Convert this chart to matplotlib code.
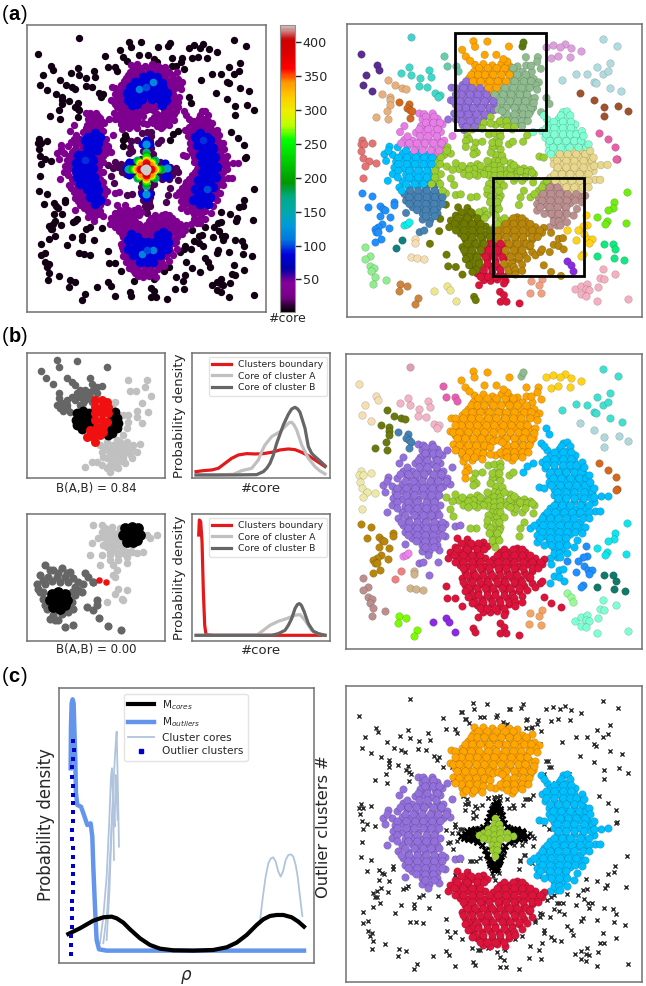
import numpy as np
import matplotlib
matplotlib.use('Agg')
import matplotlib.pyplot as plt
from matplotlib.cm import ScalarMappable
from matplotlib.colors import Normalize
from matplotlib.lines import Line2D
from matplotlib.patches import Rectangle

W, H = 646, 986

ORANGE_CORE = [(403,165),(428,163),(455,167),(482,163),(506,168),(531,170),(400,186),(421,184),(446,187),(470,183),(496,187),(519,184),(546,187),(574,186),
               (385,206),(406,204),(431,207),(455,203),(480,207),(510,204),(535,207),(560,204),(580,208),(595,218),(365,226),(388,224),(412,228),(440,224),
               (465,228),(490,224),(515,228),(540,224),(565,228),(585,226),(332,234),(355,246),(380,244),(405,248),(430,244),(455,248),(480,244),(505,248),
               (530,244),(555,248),(350,266),(372,264),(395,268),(420,264),(445,268),(470,264),(495,268),(520,264),(545,268),(565,264),(330,272),(345,286),
               (365,284),(385,288),(410,284),(435,288),(460,284),(485,288),(510,284),(535,288),(560,284),(578,294),(340,312),(370,305),(395,308),(420,305),
               (445,308),(525,305),(545,308),(570,306),(350,326),(375,324),(400,328),(430,324),(490,326),(510,324),(535,328),(555,324),(365,346),(385,344),
               (410,348),(465,346),(485,344),(510,348),(530,344),(370,362),(395,360),(515,360),
               (415,175),(442,175),(468,175),(493,175),(518,175),(392,195),(412,195),(433,195),(458,195),(483,195),(507,195),(530,195),(556,195),
               (376,215),(397,215),(420,215),(447,215),(472,215),(497,215),(522,215),(550,215),(572,215),(344,235),(368,235),(393,235),(418,235),(443,235),
               (468,235),(493,235),(518,235),(543,235),(568,235),(362,255),(388,255),(412,255),(438,255),(462,255),(488,255),(512,255),(538,255),(560,255),
               (338,275),(358,275),(383,275),(408,275),(432,275),(458,275),(482,275),(508,275),(532,275),(555,275),(352,295),(376,295),(398,295),(422,295),
               (448,295),(498,295),(522,295),(548,295),(572,295),(358,315),(383,315),(408,315),(432,315),(500,315),(522,315),(548,315),(565,315),(362,335),
               (388,335),(412,335),(478,335),(498,335),(522,335),(545,335),(378,352),(402,352),(500,352),(522,352),
               (460,302),(472,300),(485,305),(450,322),(345,330),(430,340),(450,342),(562,335),(425,358),(545,350),(590,240),(583,265),(580,280),(345,255)]
ORANGE_FRINGE = [(398,94),(403,111),(440,95),(505,110),(364,120),(375,140),(388,153),(432,135),(467,135),(556,142),(592,142),(590,156),(601,177),
                 (557,167),(572,168),(500,155),(488,148),(380,380),(385,390),(375,395),(375,413)]
PURPLE_CORE = [(235,312),(250,314),(275,312),(322,330),(245,330),(270,332),(290,328),(305,345),(190,350),(240,350),(260,348),(285,352),(177,368),
               (225,370),(250,368),(275,372),(300,368),(335,380),(190,392),(215,394),(240,390),(265,394),(290,390),(310,394),(145,412),(170,414),(200,410),
               (225,414),(250,410),(275,414),(300,410),(320,414),(130,435),(155,437),(185,433),(210,437),(235,433),(260,437),(285,433),(310,437),(330,433),
               (135,455),(165,457),(190,453),(215,457),(240,453),(265,457),(290,453),(160,475),(185,477),(210,473),(235,477),(260,473),(285,477),(155,495),
               (195,497),(220,493),(245,497),(270,493),(300,495),(140,515),(185,517),(215,513),(240,517),(265,513),(290,517),(175,535),(205,537),(230,533),
               (255,537),(280,533),(315,553),(190,555),(215,557),(240,553),(265,557),(290,553),(345,558),(360,556),(195,575),(220,577),(245,573),(270,577),
               (295,573),(315,587),(215,595),(240,597),(265,593),(290,597),(195,612),(245,614),(270,610),(290,614),(245,632),(268,634),(298,630),(265,645),
               (255,322),(280,322),(255,340),(278,340),(298,340),(235,360),(262,360),(290,360),(200,381),(237,381),(262,381),(288,381),(180,402),(205,402),
               (228,402),(252,402),(278,402),(302,402),(142,424),(195,424),(220,424),(245,424),(270,424),(295,424),(318,424),(172,445),(198,445),(225,445),
               (250,445),(275,445),(300,445),(172,465),(198,465),(222,465),(248,465),(272,465),(298,465),(172,485),(205,485),(232,485),(258,485),(282,485),
               (170,505),(205,505),(232,505),(258,505),(282,505),(195,525),(222,525),(248,525),(272,525),(298,525),(182,545),(208,545),(232,545),(258,545),
               (282,545),(305,545),(205,565),(232,565),(258,565),(282,565),(305,565),(205,585),(230,585),(255,585),(280,585),(305,585),(228,604),(255,604),
               (280,604),(255,622),(282,622)]
PURPLE_FRINGE = [(236,670),(250,665),(295,667),(267,705)]
BLUE_CORE = [(602,308),(668,308),(680,306),(620,330),(655,328),(680,332),(630,347),(655,345),(680,349),(705,345),(605,365),(630,367),(655,363),
             (680,367),(700,363),(615,385),(640,387),(665,383),(690,387),(715,383),(625,405),(650,407),(675,403),(700,407),(730,403),(625,425),(650,427),
             (675,423),(700,427),(725,423),(742,427),(597,442),(610,445),(640,447),(665,443),(690,447),(715,443),(745,447),(640,465),(665,467),(690,463),
             (715,467),(745,463),(782,468),(802,467),(650,485),(675,487),(700,483),(725,487),(760,485),(630,505),(655,507),(680,503),(705,507),(730,503),
             (765,512),(780,512),(610,525),(635,527),(660,523),(685,527),(710,523),(735,527),(595,545),(620,547),(645,543),(670,547),(695,543),(720,547),
             (570,565),(595,567),(620,563),(645,567),(670,563),(695,567),(720,563),(590,585),(615,587),(640,583),(665,587),(690,583),(590,605),(625,607),
             (650,603),(675,607),(640,625),(665,627),(650,650),(628,655),
             (610,318),(662,318),(690,318),(640,337),(668,337),(692,337),(618,356),(642,356),(668,356),(692,356),(618,375),(642,375),(668,375),(690,375),
             (708,375),(628,395),(652,395),(678,395),(702,395),(722,395),(638,415),(662,415),(688,415),(715,415),(738,415),(632,435),(658,435),(682,435),
             (708,435),(735,435),(650,455),(678,455),(702,455),(730,455),(755,455),(652,475),(678,475),(702,475),(730,475),(752,475),(642,495),(665,495),
             (690,495),(718,495),(745,495),(620,515),(645,515),(670,515),(695,515),(720,515),(745,515),(605,535),(628,535),(652,535),(678,535),(702,535),
             (728,535),(582,555),(608,555),(632,555),(658,555),(682,555),(708,555),(605,575),(630,575),(655,575),(680,575),(705,575),(600,595),(628,595),
             (652,595),(678,595),(632,615),(655,615),(680,615),(640,638),(655,638),
             (725,365),(730,380),(745,405),(750,425),(760,445),(762,470),(745,535),(735,560),(725,580),(710,600),(700,620),(680,640),(612,615),(660,650)]
BLUE_FRINGE = [(618,265),(627,283),(578,368),(560,378),(548,397),(632,672),(655,690),(668,688),(640,708),(655,712),(670,722),(628,730)]
RED_CORE = [(352,595),(380,597),(385,610),(430,605),(345,620),(375,622),(400,618),(425,622),(440,618),(530,625),(330,635),(360,637),(385,633),
            (410,637),(480,635),(505,637),(530,633),(555,637),(325,655),(355,657),(380,653),(405,657),(435,653),(460,657),(485,653),(510,657),(535,653),
            (560,657),(585,655),(610,657),(360,675),(385,677),(410,673),(435,677),(460,673),(485,677),(510,673),(535,677),(560,673),(590,675),(605,672),
            (375,695),(400,697),(425,693),(450,697),(475,693),(500,697),(525,693),(550,697),(575,693),(365,715),(390,717),(415,713),(440,717),(465,713),
            (490,717),(515,713),(540,717),(565,713),(375,735),(400,737),(425,733),(450,737),(475,733),(500,737),(525,733),(550,737),(390,755),(415,757),
            (440,753),(465,757),(490,753),(515,757),(535,753),(400,775),(425,777),(450,773),(475,777),(500,773),(410,795),(430,797),(455,793),(480,797),
            (505,793),(430,815),(450,817),(470,813),(495,817),
            (362,610),(392,610),(415,610),(352,628),(380,628),(410,628),(432,628),(492,628),(518,628),(545,628),(342,645),(370,645),(395,645),(420,645),
            (470,645),(495,645),(520,645),(545,645),(570,645),(345,665),(370,665),(395,665),(420,665),(448,665),(472,665),(498,665),(522,665),(548,665),
            (575,665),(598,665),(370,685),(395,685),(420,685),(448,685),(472,685),(498,685),(522,685),(548,685),(575,685),(592,685),(380,705),(405,705),
            (430,705),(455,705),(480,705),(505,705),(530,705),(558,705),(370,725),(395,725),(420,725),(445,725),(470,725),(495,725),(520,725),(545,725),
            (385,745),(410,745),(435,745),(460,745),(485,745),(510,745),(535,745),(395,765),(415,765),(440,765),(465,765),(490,765),(515,765),(405,785),
            (430,785),(455,785),(480,785),(505,785),(420,805),(442,805),(465,805),(490,805),
            (575,730),(560,750),(375,752),(385,770),(520,775),(545,768),(395,790),(525,785),(570,710)]
RED_FRINGE = [(317,738),(585,740),(600,730),(605,722),(610,770),(322,773),(345,775),(365,798),(525,798),(545,787),(632,790),(662,802),(415,830),
              (478,850),(490,860),(400,865),(405,875),(480,880),(498,880),(537,885),(490,825)]
GREEN_CORE = [(465,437),(462,455),(475,455),(445,470),(462,470),(480,470),(430,482),(445,482),(462,485),(480,482),(500,482),(417,487),(518,488),
              (445,498),(462,500),(480,498),(430,495),(500,495),(455,515),(470,515),(460,530),(470,530),(463,548)]
GREEN_FRINGE = [(445,375),(462,372),(478,370),(480,382),(405,400),(425,397),(400,418),(408,430),(398,435),(505,405),(517,397),(465,395),(470,410),
                (455,415),(480,420),(410,465),(390,470),(375,480),(355,480),(345,462),(318,472),(335,482),(370,495),(390,490),(410,500),(510,462),(530,478),
                (550,478),(570,482),(580,495),(578,520),(530,495),(550,490),(520,515),(545,515),(330,508),(340,528),(440,555),(480,560),(408,563),(390,565),
                (460,570),(475,570),(460,590),(470,590),(460,610),(465,620),(550,545),(540,565),(535,588),
                (455,400),(475,400),(450,430),(485,440),(440,455),(490,455),(420,470),(400,480),(385,482),(365,470),(400,495),(385,500),(510,478),(520,468),
                (540,485),(560,488),(575,490),(525,505),(555,505),(510,500),(445,525),(480,515),(440,540),(490,530),(450,565),(470,580),(455,600),(475,600),
                (475,545),(448,580)]
# black crosses hugging the green cores in panel (c)
STAR_HALO = [(468,388),(462,398),(474,400),(456,408),(468,410),(480,410),(450,420),(462,420),(476,422),(486,426),(448,432),(484,438),(440,445),(490,450),
             (430,462),(500,462),(418,470),(508,468),(400,474),(520,472),(388,480),(535,478),(375,484),(548,482),(362,488),(560,488),(372,494),(550,494),
             (385,498),(535,498),(398,500),(520,502),(412,508),(505,508),(425,515),(495,518),(436,530),(488,532),(442,545),(482,548),(448,560),(478,560),
             (452,572),(474,572),(456,582),(470,582),(462,590),(464,575),(394,488),(540,488),(380,476),(392,472),(405,470),(530,470),(545,474),(525,495),
             (410,500),(395,494),(465,400),(470,395),(455,418),(478,416),(450,570),(476,566),(460,578),(466,588)]
# crosses of panel (c) that have no dot of their own in panel (b)
EXTRA_CROSSES = [(365,120),(378,140),(420,135),(470,130),(510,112),(560,140),(575,165),(600,215),(622,265),(632,285),(610,305),(645,330),(670,305),(685,305),
                 (340,320),(350,332),(320,330),(335,272),(335,285),(310,285),(370,370),(385,395),(410,405),(445,375),(470,372),(500,380),(520,405),(555,380),
                 (570,380),(595,445),(610,455),(625,470),(345,455),(360,470),(365,490),(350,505),(325,510),(345,555),(360,560),(395,565),(420,555),(440,550),
                 (490,545),(540,560),(555,545),(575,570),(595,610),(325,650),(345,605),(385,595),(330,655),(590,665),(605,660),(640,665),(650,690),(620,680),
                 (600,720),(585,745),(610,780),(640,800),(330,790),(395,825),(420,830),(445,825),(470,835),(495,830)]

WHEAT = [(58,132),(108,167),(113,180),(75,195),(65,226),(92,243)]
ROSE = [(210,82)]
HOT_PINK = [(308,138),(318,170),(345,170),(352,183)]
LIGHT_PINK = [(205,173),(180,190),(210,196),(265,182),(270,202),(236,206),(235,229),(257,232),(283,251),(298,255),(292,263)]
OLIVE = [(140,210),(163,227),(183,234),(194,238),(124,254),(146,262),(146,272),(146,285),(104,323),(137,305),(140,330)]
STEEL = [(174,277),(205,282),(197,294),(208,300),(212,305),(206,325)]
KHAKI = [(63,393),(58,405),(68,405),(92,400),(60,425),(65,445),(82,455),(105,460),(70,470),(65,508)]
GOLDENROD = [(63,552),(93,561),(80,594),(118,590),(125,600),(133,604),(160,580),(160,588),(118,622),(148,623),(122,645),(112,655),(100,660),
             (105,670),(143,658),(120,690),(100,700),(110,670)]
ROSY = [(70,715),(85,742),(70,750),(85,772),(97,778),(90,788),(100,804),(95,827),(135,813)]
CORAL = [(184,694),(165,718)]
TAN = [(223,692),(223,703),(210,745),(228,747),(250,750)]
ORCHID = [(188,649),(197,645),(204,640)]
LAWN = [(177,827),(197,833),(175,848),(232,870),(222,887)]
VIOLET = [(279,847),(318,833),(328,845),(346,877)]
SANDY = [(570,818),(604,810),(596,829),(567,853),(601,855)]
PALE_GREEN = [(680,758),(692,770),(698,786)]
AQUA = [(705,842),(722,832),(740,825),(737,840),(745,843),(722,857),(737,862),(772,835),(780,808),(790,810),(788,780),(826,795),(770,878),(863,872)]
TEAL = [(792,705),(818,706),(826,722),(770,741),(822,747),(853,754)]
DODGER = [(737,618),(740,647),(727,650),(713,664),(680,662),(708,695),(730,677),(742,690),(755,690),(747,703),(727,735),(722,742)]
CYAN = [(860,548),(823,580),(820,598),(804,603),(771,625),(800,635),(795,645),(858,641)]
CHOCOLATE = [(777,370),(803,390),(826,412),(830,448),(828,450)]
POWDER = [(720,250),(760,270),(792,292),(835,288),(863,303),(790,320)]
TURQUOISE = [(788,88),(832,107),(666,210),(706,193),(740,194),(770,172),(808,159),(788,194),(804,185),(760,216),(768,220),(810,235),(844,245)]
GOLD = [(618,112),(638,105),(673,101),(660,112),(693,115),(722,124),(631,145),(654,139),(688,142)]
SAGE = [(543,108),(548,97)]

# points, colour in panel (b), colour in panel (a)
SMALL_CLUSTERS = [
    (WHEAT, '#f5deb3', '#5a2d91'), (ROSE, '#dda0b0', '#48d1cc'), (HOT_PINK, '#e85fb0', '#66cdaa'),
    (LIGHT_PINK, '#f2b4c6', '#40d8c8'), (OLIVE, '#6b7a10', '#e8b07a'), (STEEL, '#4682b4', '#d2691e'),
    (KHAKI, '#eee8aa', '#e57373'), (GOLDENROD, '#b8860b', '#1e90ff'), (ROSY, '#bc8f8f', '#90ee90'),
    (CORAL, '#f08080', '#0f7f7f'), (TAN, '#d2b48c', '#f5deb3'), (ORCHID, '#ee82ee', '#10f0f0'),
    (LAWN, '#7cfc00', '#cd853f'), (VIOLET, '#8a2be2', '#eee68c'), (SANDY, '#f4a460', '#f0a080'),
    (PALE_GREEN, '#98fb98', '#8a2be2'), (AQUA, '#7fffd4', '#f4b0c0'), (TEAL, '#0f7a6a', '#10e880'),
    (DODGER, '#1e90ff', '#ffd21a'), (CYAN, '#10e5ee', '#70ee10'), (CHOCOLATE, '#d2691e', '#e860a8'),
    (POWDER, '#b0d8dc', '#a0522d'), (TURQUOISE, '#40e0d0', '#b0dce0'), (GOLD, '#ffd21a', '#dda0dd'),
    (SAGE, '#8fbc8f', '#5a7a10'),
]

# panel (a) splits the big groups differently: nearest of these seeds
BIG_SEEDS_A = [
    (445, 180, '#ffa500'), (480, 115, '#ffa500'), (385, 280, '#9370db'), (535, 270, '#8fbc8f'), (570, 170, '#8fbc8f'),
    (245, 375, '#e87de8'), (215, 480, '#00bfff'), (250, 590, '#4682b4'),
    (660, 380, '#7fffd4'), (680, 480, '#e8d88c'), (650, 590, '#bc8f8f'),
    (395, 680, '#6f7a00'), (350, 640, '#6f7a00'), (400, 760, '#6f7a00'), (320, 740, '#6f7a00'), (400, 860, '#6f7a00'),
    (455, 750, '#dc143c'), (460, 795, '#dc143c'), (480, 850, '#dc143c'), (420, 825, '#dc143c'),
    (530, 680, '#b8860b'), (590, 720, '#b8860b'), (525, 760, '#b8860b'),
    (460, 485, '#9acd32'), (465, 395, '#9acd32'), (330, 490, '#9acd32'), (560, 490, '#9acd32'), (460, 590, '#9acd32'),
]

# #core values for panel (a) left, read in that panel's own crop
TOP_BLOB = [(430,230),(450,225),(470,232),(405,245),(425,245),(445,240),(465,245),(485,250),(390,260),(410,262),(430,262),(450,258),(470,262),(490,265),
            (380,280),(400,280),(420,280),(440,280),(460,280),(480,280),(500,280),(385,300),(405,300),(425,298),(455,298),(478,298),(497,300),(395,315),(412,312),(485,315)]
BOTTOM_BLOB = [(392,700),(490,695),(410,710),(475,705),(500,705),(385,720),(405,725),(425,725),(445,725),(465,725),(485,725),(505,725),(385,745),(405,745),
               (425,745),(445,745),(465,745),(485,745),(500,745),(400,765),(420,768),(440,770),(460,768),(480,765),(420,785),(440,785),(460,785)]
LEFT_BLOB = [(285,400),(265,410),(275,425),(260,440),(280,445),(250,465),(270,465),(240,485),(260,485),(240,505),(260,505),(245,525),(265,525),(250,545),
             (270,545),(260,565),(280,565),(270,590),(290,590),(285,610),
             (235,465),(228,490),(228,510),(232,530),(240,550),(300,410),(295,430),(290,450),(280,480),(278,505),(283,530),(288,550),(295,570),(300,600),(255,420)]
RIGHT_BLOB = [(600,400),(620,410),(605,425),(625,440),(610,445),(630,465),(615,465),(640,490),(620,490),(640,510),(620,510),(635,530),(615,530),(630,550),
              (610,550),(620,570),(600,570),(610,590),(590,590),(600,610),
              (585,410),(590,435),(600,465),(605,490),(605,515),(595,540),(585,565),(580,600),(630,420),(640,445),(645,470),(650,500),(648,530),(640,560),(630,590),(625,610)]
BRIGHT_SPOTS = [(417,268,112),(458,247,118),(437,262,100),(425,762,115),(460,748,115),(440,750,100),(620,565,100),(255,480,96),(610,420,96)]
STAR_LEVELS = [
    (85, [(437,420),(425,432),(450,432),(437,592),(425,582),(450,582),(378,505),(388,487),(388,525),(505,505),(505,528),(495,490),(495,530)]),
    (125, [(383,507),(500,505),(437,432),(437,580)]),
    (165, [(387,507),(487,507),(437,457),(437,557),(410,480),(464,480),(410,534),(464,534)]),
    (205, [(395,507),(479,507),(437,465),(437,549),(414,484),(460,484),(414,530),(460,530)]),
    (250, [(402,507),(472,507),(437,472),(437,542),(417,487),(457,487),(417,527),(457,527)]),
    (300, [(409,507),(465,507),(437,479),(437,535),(420,490),(454,490),(420,524),(454,524)]),
    (340, [(415,507),(459,507),(437,485),(437,529),(424,494),(450,494),(424,520),(450,520)]),
    (365, [(420,507),(454,507),(437,490),(437,524)]),
    (395, [(427,507),(447,507),(437,497),(437,517)]),
    (424, [(437,507),(433,507),(441,507),(437,503),(437,511)]),
]
CBAR_TICKS = [50, 100, 150, 200, 250, 300, 350, 400]

# panel (b) small scatters
B1_DARK = [(170,105),(230,107),(178,126),(124,137),(138,158),(158,178),(200,160),(320,126),(215,172),(270,160),(275,178),(225,180),(290,185),(305,182),(240,195),
           (255,195),(270,200),(280,195),(178,205),(178,220),(230,205),(250,210),(270,215),(185,235),(170,240),(200,240),(225,225),(255,225),(275,230),(190,258),(210,262),(240,240),
           (240,215),(260,205),(290,205),(200,225),(215,215),(250,235),(180,250),(200,250)]
B1_LIGHT = [(385,165),(440,165),(435,185),(390,198),(408,198),(452,212),(425,235),(412,258),(445,262),(410,275),(425,295),(345,230),(335,245),(370,270),(385,270),
            (385,290),(380,310),(370,330),(350,345),(300,360),(320,350),(340,360),(360,350),(380,350),(400,360),(420,358),(305,380),(325,375),(345,380),(365,375),(385,375),
            (410,382),(320,400),(340,395),(360,400),(395,400),(330,420),(350,415),(375,415),(330,440),(355,430),(255,425),(275,410),(290,410),(305,420),(320,430),
            (315,365),(335,370),(355,365),(375,362),(395,370),(330,385),(350,388),(370,388),(390,388),(335,408),(360,408),(345,425),(370,400),(310,395)]
B1_BLACK = [(230,265),(250,258),(268,265),(228,285),(248,282),(270,282),(232,300),(250,300),(268,298),(245,312),(345,262),(350,280),(335,275),(355,295),(340,295),
            (330,315),(350,310),(335,325),(325,330)]
B1_RED = [(285,225),(305,225),(320,230),(285,245),(305,245),(325,245),(285,265),(305,265),(325,265),(285,285),(305,285),(320,290),(290,305),(310,305),(270,315),(290,322),
          (310,320),(260,335),(280,335),(300,330),(285,352)]
B2_LIGHT = [(280,600),(305,600),(335,605),(360,610),(305,620),(325,625),(345,630),(295,640),(320,645),(345,650),(370,650),(275,655),(320,665),(345,670),(370,670),(395,660),
            (415,650),(450,640),(472,630),(440,630),(305,690),(330,690),(355,690),(380,695),(410,685),(430,680),(380,715),(270,690),(300,720),(340,720),(350,735),(345,755),
            (355,790),(380,795),(345,805),(320,830),(365,820),(370,825),(340,750),
            (315,610),(335,620),(355,625),(310,635),(335,640),(360,640),(385,680),(330,680),(350,680),(370,685),(395,680),(310,660),(335,660),(360,660),(330,705),(355,705)]
B2_DARK = [(135,720),(160,735),(185,730),(210,740),(120,750),(145,755),(170,755),(195,755),(220,760),(110,775),(135,775),(250,775),(225,785),(245,800),(120,800),(225,810),
           (130,820),(215,830),(140,850),(160,870),(185,865),(205,860),(150,880),(175,885),(195,905),(220,900),(265,755),(280,770),(255,745),(262,845),(290,825),(290,840),
           (280,855),(298,878),(325,902),(363,915),(278,770),
           (150,735),(175,745),(200,745),(130,765),(155,768),(180,770),(205,770),(235,770),(115,790),(235,795),(130,800),(215,800),(135,840),(220,850),(165,885)]
B2_BLACK = [(375,610),(395,605),(415,610),(370,630),(395,630),(420,630),(380,650),(400,650),(410,645),(155,805),(175,800),(195,805),(150,825),(175,825),(200,825),(160,845),
            (180,850),(195,840)]
B2_RED = [(298,765),(318,770)]

# panel (b) density curves
D1_RED = [(588,440),(610,437),(635,435),(655,430),(675,415),(695,400),(715,390),(740,386),(765,387),(790,386),(815,382),(840,375),(865,372),(885,374),(905,382),(925,392),(945,405),(960,415),(975,425)]
D1_LIGHT = [(588,450),(650,450),(700,448),(725,437),(755,430),(775,405),(785,380),(795,360),(815,335),(840,320),(860,300),(868,293),(875,292),(882,300),(890,315),(905,360),(925,400),(945,425),(960,438),(975,447)]
D1_DARK = [(588,450),(700,450),(770,449),(790,440),(800,430),(810,415),(820,390),(830,355),(850,300),(865,268),(875,252),(885,247),(893,252),(900,262),(915,310),(925,365),(935,385),(945,395),(960,408),(975,422)]
D2_RED = [(596,630),(598,585),(602,590),(606,650),(610,800),(614,900),(618,928),(640,930),(975,930)]
D2_LIGHT = [(588,930),(770,930),(790,915),(810,900),(835,888),(860,880),(885,870),(900,868),(915,885),(935,915),(955,925),(975,930)]
D2_DARK = [(588,930),(815,930),(835,925),(855,915),(865,900),(875,880),(885,850),(892,838),(898,835),(904,840),(912,858),(925,895),(940,918),(955,925),(975,930)]
DENSITY_LABELS = ['Clusters boundary', 'Core of cluster A', 'Core of cluster B']

# panel (c) curves
M_OUTLIERS = [(212,325),(213,200),(215,130),(218,118),(221,130),(223,200),(226,300),(228,400),(232,435),(243,440),(252,465),(262,495),(272,490),(277,530),(280,620),(285,740),(290,840),(297,868),(320,872),(912,872)]
M_CORES = [(205,822),(240,805),(280,782),(310,772),(335,770),(350,775),(370,788),(390,808),(420,835),(450,855),(480,866),(520,871),(580,872),(640,870),(680,862),(710,848),(740,825),(770,795),(790,778),(810,768),(830,765),(850,765),(875,772),(895,785),(912,800)]
CORE_CURVES = [
    [(300,850),(310,770),(320,650),(328,480),(333,350),(336,325),(340,450),(342,600)],
    [(310,850),(322,750),(332,560),(340,380),(346,270),(350,215),(352,300),(355,450),(357,560)],
    [(320,840),(328,700),(335,500),(340,430),(344,500),(347,345),(350,400),(353,480)],
    [(780,785),(785,740),(790,700),(797,650),(805,610),(812,596),(820,592),(827,605),(835,635),(842,650),(849,635),(857,600),(865,585),(873,583),(880,590),(887,615),(893,650),(900,710),(907,768)],
]
OUTLIER_X = [220,222,218,217,216,218,218,218,218,220,217,217,218,218,218,218,220,220,217,217,217,215,213,213,213]
OUTLIER_Y = [242,270,296,322,350,378,404,430,455,482,510,537,563,590,617,642,668,695,722,748,775,802,828,855,882]

TEXT = '#262626'
FRAME = '#707070'
plt.rcParams['font.family'] = 'DejaVu Sans'
plt.rcParams['text.color'] = TEXT

fig = plt.figure(figsize=(W / 100, H / 100), dpi=100)


def px_axes(x0, y0, x1, y1, xlim=(18, 905), ylim=(925, 42)):
    ax = fig.add_axes([x0 / W, 1 - y1 / H, (x1 - x0) / W, (y1 - y0) / H])
    ax.set_xlim(*xlim)
    ax.set_ylim(*ylim)
    ax.set_xticks([])
    ax.set_yticks([])
    for s in ax.spines.values():
        s.set_color(FRAME)
        s.set_linewidth(1.1)
    return ax


def xy(points):
    arr = np.array(points, dtype=float)
    return arr[:, 0], arr[:, 1]


def dots(ax, points, color, s=30, edge=True, **kw):
    x, y = xy(points)
    if edge:
        ax.scatter(x, y, s=s, c=color, edgecolors='#00000038', linewidths=0.4, **kw)
    else:
        ax.scatter(x, y, s=s, c=color, linewidths=0, **kw)


def a_crop_to_shared(points):
    # left panel (a) was read in its own crop, frame 82-797 by 75-935
    x, y = xy(points)
    return (x - 82) * 887 / 715 + 18, (y - 75) * 883 / 860 + 42


def seed_colours(points):
    seeds = np.array([(s[0], s[1]) for s in BIG_SEEDS_A], dtype=float)
    out = []
    for p in points:
        d = ((seeds - np.array(p)) ** 2).sum(axis=1)
        out.append(BIG_SEEDS_A[int(d.argmin())][2])
    return out


def label(x, y, s, size, **kw):
    kw.setdefault('ha', 'center')
    kw.setdefault('va', 'center')
    fig.text(x / W, 1 - y / H, s, fontsize=size, **kw)


def panel_tag(x, y, letter):
    f = 'Liberation Sans'
    label(x, y, '(', 14.5, family=f, ha='left', va='baseline', color='black')
    label(x + 6.5, y, letter, 14.5, family=f, weight='bold', ha='left', va='baseline', color='black')
    label(x + 18.5, y, ')', 14.5, family=f, ha='left', va='baseline', color='black')


small_pts = [p for c in SMALL_CLUSTERS for p in c[0]]
big_all = ORANGE_CORE + ORANGE_FRINGE + PURPLE_CORE + PURPLE_FRINGE + BLUE_CORE + BLUE_FRINGE + RED_CORE + RED_FRINGE + GREEN_CORE + GREEN_FRINGE

panel_tag(2, 20, 'a')
panel_tag(2, 342, 'b')
panel_tag(2, 682, 'c')

# (a) left, coloured by #core
norm = Normalize(2, 425)
cmap = plt.get_cmap('nipy_spectral')
ax = px_axes(27.3, 25, 265.7, 312)
dots(ax, small_pts + ORANGE_FRINGE + PURPLE_FRINGE + BLUE_FRINGE + RED_FRINGE, cmap(norm(6)), s=28, edge=False)
dots(ax, GREEN_FRINGE, cmap(norm(16)), s=28, edge=False)
dots(ax, ORANGE_CORE + PURPLE_CORE + BLUE_CORE + RED_CORE, cmap(norm(32)), s=28, edge=False)
for blob in (TOP_BLOB, BOTTOM_BLOB, LEFT_BLOB, RIGHT_BLOB):
    bx, by = a_crop_to_shared(blob)
    ax.scatter(bx, by, s=48, c=[cmap(norm(86))], linewidths=0)
for sx, sy, sv in BRIGHT_SPOTS:
    bx, by = a_crop_to_shared([(sx, sy)])
    ax.scatter(bx, by, s=30, c=[cmap(norm(sv))], linewidths=0)
for level, pts in STAR_LEVELS:
    bx, by = a_crop_to_shared(pts)
    ax.scatter(bx, by, s=34, c=[cmap(norm(level))], linewidths=0)

cax = fig.add_axes([280.3 / W, 1 - 312 / H, 14.2 / W, 287 / H])
cb = fig.colorbar(ScalarMappable(norm=norm, cmap=cmap), cax=cax)
cb.set_ticks(CBAR_TICKS)
cb.ax.tick_params(labelsize=9.2, length=4, width=1, color=TEXT, labelcolor=TEXT, pad=2)
cb.outline.set_edgecolor('#909090')
label(287, 319, '#core', 9)

# (a) right, cluster splitting
ax = px_axes(347.3, 24, 641.7, 316.7)
for pts, _, col in SMALL_CLUSTERS:
    dots(ax, pts, col)
bx, by = xy(big_all)
ax.scatter(bx, by, s=30, c=seed_colours(big_all), edgecolors='#00000038', linewidths=0.4)
for (rx0, ry0, rx1, ry1) in [(343, 70, 618, 363), (456, 508, 731, 802)]:
    ax.add_patch(Rectangle((rx0, ry0), rx1 - rx0, ry1 - ry0, fill=False, ec='black', lw=2, zorder=5))

# (b) left, the two boundary examples
zoom3 = dict(xlim=(82, 495))
ax = px_axes(27.3, 353.3, 165, 478.3, ylim=(460, 85), **zoom3)
dots(ax, B1_DARK, '#666666', s=30, edge=False)
dots(ax, B1_LIGHT, '#c0c0c0', s=30, edge=False)
dots(ax, B1_BLACK, 'black', s=50, edge=False)
dots(ax, B1_RED, '#f01010', s=42, edge=False)

ax = px_axes(27.3, 514.3, 165, 641, ylim=(947, 568), **zoom3)
dots(ax, B2_LIGHT, '#c0c0c0', s=30, edge=False)
dots(ax, B2_DARK, '#666666', s=34, edge=False)
dots(ax, B2_BLACK, 'black', s=60, edge=False)
dots(ax, B2_RED, '#f01010', s=22, edge=False)

label(96, 488, 'B(A,B) = 0.84', 8.5)
label(96, 650, 'B(A,B) = 0.00', 8.5)

density_sets = [
    ((353.3, 478.3), (460, 85), D1_RED, D1_LIGHT, D1_DARK),
    ((514.3, 641), (947, 568), D2_RED, D2_LIGHT, D2_DARK),
]
for (py0, py1), lim, red, light, dark in density_sets:
    ax = px_axes(191.7, py0, 330, py1, xlim=(575, 990), ylim=lim)
    for curve, col, name in zip((red, light, dark), ('#e31a1c', '#c0c0c0', '#666666'), DENSITY_LABELS):
        cx, cy = xy(curve)
        ax.plot(cx, cy, color=col, lw=2.3, label=name, solid_joinstyle='round')
    ax.legend(loc='upper right', fontsize=6.7, framealpha=0.8, edgecolor='#dddddd', borderaxespad=0.35, borderpad=0.35,
              labelspacing=0.3, handlelength=2.0, labelcolor=TEXT)
    label(180, (py0 + py1) / 2, 'Probability density', 9.6, rotation=90)
label(261, 488, '#core', 9.5)
label(261, 650, '#core', 9.5)

# (b) right
ax = px_axes(346, 354, 642, 648.5)
for pts, col, _ in SMALL_CLUSTERS:
    dots(ax, pts, col)
dots(ax, ORANGE_CORE + ORANGE_FRINGE, '#ffa500')
dots(ax, PURPLE_CORE + PURPLE_FRINGE, '#9370db')
dots(ax, BLUE_CORE + BLUE_FRINGE, '#00bfff')
dots(ax, RED_CORE + RED_FRINGE, '#dc143c')
dots(ax, GREEN_CORE + GREEN_FRINGE, '#9acd32')

# (c) left, densities
ax = px_axes(59.3, 688, 314, 963.3, xlim=(178, 942), ylim=(910, 84))
for i, curve in enumerate(CORE_CURVES):
    cx, cy = xy(curve)
    ax.plot(cx, cy, color='#b0c4de', lw=1.3, label='Cluster cores' if i == 0 else None)
cx, cy = xy(M_OUTLIERS)
ax.plot(cx, cy, color='#6495ed', lw=3.2, solid_joinstyle='round')
cx, cy = xy(M_CORES)
ax.plot(cx, cy, color='black', lw=3)
ax.scatter(OUTLIER_X, OUTLIER_Y, marker='s', s=6, color='#0000cd', linewidths=0, zorder=4)
handles = [
    Line2D([], [], color='black', lw=3, label='M$_{cores}$'),
    Line2D([], [], color='#6495ed', lw=3.2, label='M$_{outliers}$'),
    Line2D([], [], color='#b0c4de', lw=1.3, label='Cluster cores'),
    Line2D([], [], color='#0000cd', marker='s', ms=2.6, ls='none', label='Outlier clusters'),
]
ax.legend(handles=handles, loc='upper left', bbox_to_anchor=(0.254, 0.98), borderaxespad=0, fontsize=7.6,
          framealpha=0.8, edgecolor='#dddddd', labelspacing=0.35, handlelength=2.4, labelcolor=TEXT)
label(46, 825, 'Probability density', 11.9, rotation=90)
label(324, 827, 'Outlier clusters #', 11.7, rotation=90)
label(186, 977, r'$\rho$', 12)

# (c) right, cores with outliers as crosses
ax = px_axes(346, 686, 642, 982)
crosses = small_pts + ORANGE_FRINGE + PURPLE_FRINGE + BLUE_FRINGE + RED_FRINGE + GREEN_FRINGE + EXTRA_CROSSES
cx, cy = xy(crosses)
ax.scatter(cx, cy, marker='x', s=9, c='#2a2a2a', linewidths=1)
cx, cy = xy(STAR_HALO)
ax.scatter(cx, cy, marker='x', s=18, c='black', linewidths=1.7)
dots(ax, ORANGE_CORE, '#ffa500')
dots(ax, PURPLE_CORE, '#9370db')
dots(ax, BLUE_CORE, '#00bfff')
dots(ax, RED_CORE, '#dc143c')
dots(ax, GREEN_CORE, '#9acd32')

fig.savefig('out.png', dpi=100)
